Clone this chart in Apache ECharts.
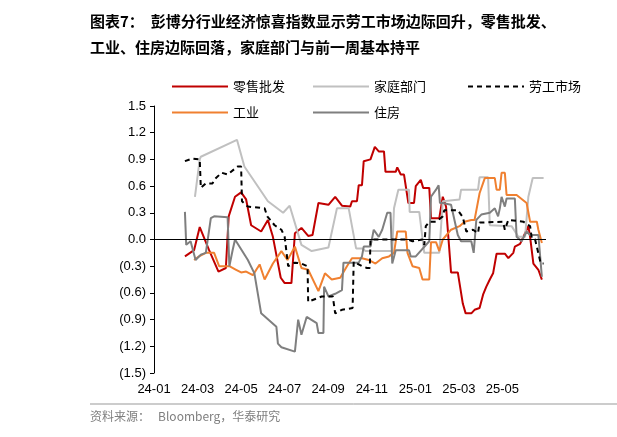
<!DOCTYPE html>
<html><head><meta charset="utf-8">
<script src="https://cdn.jsdelivr.net/npm/echarts@6/dist/echarts.min.js"></script>
<style>html,body{margin:0;padding:0;background:#fff}#c{width:617px;height:437px}</style>
</head><body><div id="c"></div>
<script>
// x = months since 2024-01
const tickLabels = ['24-01','24-03','24-05','24-07','24-09','24-11','25-01','25-03','25-05'];
const seriesNames = ['零售批发','家庭部门','劳工市场','工业','住房'];
const retail = [[1.42,-0.19],[1.84,-0.12],[2.10,0.14],[2.53,-0.12],[2.96,-0.36],[3.30,-0.32],[3.43,0.26],[3.72,0.48],[4.00,0.53],[4.23,0.45],[4.46,0.16],[4.92,0.09],[5.23,0.22],[5.46,0.03],[5.82,-0.43],[6.00,-0.49],[6.31,-0.49],[6.47,0.07],[6.77,0.13],[7.08,0.04],[7.28,0.05],[7.55,0.41],[8.01,0.39],[8.32,0.48],[8.63,0.38],[9.01,0.37],[9.09,0.43],[9.32,0.43],[9.40,0.61],[9.55,0.61],[9.63,0.88],[9.94,0.90],[10.14,1.04],[10.32,0.99],[10.56,0.99],[10.63,0.76],[11.10,0.76],[11.17,0.81],[11.33,0.73],[11.48,0.73],[11.68,0.41],[11.94,0.41],[12.02,0.60],[12.25,0.67],[12.36,0.58],[12.64,0.58],[12.72,0.24],[13.10,0.24],[13.26,0.48],[13.41,0.37],[13.64,-0.37],[13.95,-0.37],[14.18,-0.72],[14.31,-0.83],[14.57,-0.83],[14.72,-0.79],[14.95,-0.77],[15.11,-0.62],[15.26,-0.53],[15.42,-0.45],[15.57,-0.38],[15.73,-0.16],[16.11,-0.16],[16.27,-0.21],[16.50,-0.15],[16.57,-0.08],[16.81,-0.05],[17.19,0.15],[17.27,0.03],[17.42,-0.27],[17.65,-0.34],[17.81,-0.45]];
const household = [[1.88,0.48],[2.10,0.90],[2.15,0.93],[3.81,1.12],[4.15,0.82],[5.23,0.43],[5.93,0.30],[6.23,0.38],[6.77,-0.06],[7.24,-0.13],[8.01,-0.09],[8.40,0.35],[8.94,0.35],[9.28,-0.10],[9.55,-0.10],[9.71,-0.13],[10.94,-0.13],[11.02,0.35],[11.22,0.56],[11.71,0.56],[11.74,0.31],[12.18,0.31],[12.41,-0.15],[13.10,-0.15],[13.18,0.14],[13.26,0.43],[14.03,0.45],[14.10,0.56],[14.88,0.56],[14.95,0.70],[15.34,0.70],[15.42,0.16],[16.42,0.15],[16.73,0.03],[17.04,0.03],[17.19,0.48],[17.39,0.69],[17.89,0.69]];
const labor = [[1.42,0.88],[1.76,0.91],[2.10,0.90],[2.15,0.58],[2.38,0.63],[2.69,0.63],[2.76,0.67],[3.10,0.75],[3.38,0.73],[3.84,0.82],[4.00,0.82],[4.04,0.43],[4.31,0.37],[5.08,0.35],[5.20,0.26],[5.54,0.16],[5.85,0.11],[6.00,0.03],[6.16,-0.30],[6.47,-0.26],[6.77,-0.27],[7.05,-0.30],[7.08,-0.70],[7.70,-0.64],[8.21,-0.64],[8.32,-0.83],[8.63,-0.79],[9.12,-0.77],[9.17,-0.25],[9.55,-0.30],[9.78,-0.32],[9.91,-0.32],[9.94,0.00],[10.32,0.00],[11.64,0.00],[11.87,-0.02],[12.33,0.00],[12.41,-0.06],[12.48,0.15],[12.64,0.20],[12.95,0.20],[13.26,0.26],[13.33,0.33],[13.95,0.33],[14.18,0.25],[14.34,0.09],[14.65,0.11],[14.88,0.07],[14.95,0.19],[16.03,0.20],[16.11,0.11],[16.27,0.22],[16.96,0.20],[17.27,0.15],[17.35,0.01],[17.50,0.00],[17.76,-0.27],[17.89,-0.27]];
const industry = [[1.84,-0.23],[2.07,-0.19],[2.38,-0.15],[2.76,-0.15],[2.99,-0.30],[3.46,-0.30],[3.77,-0.34],[4.00,-0.37],[4.23,-0.36],[4.54,-0.40],[4.85,-0.28],[5.08,-0.45],[5.46,-0.27],[5.85,-0.13],[6.13,-0.23],[6.47,-0.08],[6.77,-0.32],[7.08,-0.34],[7.55,-0.58],[7.85,-0.38],[8.16,-0.45],[8.55,-0.43],[8.86,-0.30],[9.09,-0.21],[9.55,-0.21],[9.86,-0.23],[10.17,-0.27],[10.48,-0.21],[10.79,-0.19],[11.02,-0.15],[11.17,0.09],[11.56,0.09],[11.64,-0.15],[11.87,-0.30],[12.18,-0.32],[12.33,-0.45],[12.64,-0.45],[12.72,-0.03],[12.95,-0.03],[13.10,-0.13],[13.26,0.00],[13.64,0.11],[14.03,0.15],[14.26,0.20],[14.57,0.22],[14.72,0.22],[14.95,0.52],[15.19,0.69],[15.65,0.69],[15.73,0.56],[15.88,0.56],[15.96,0.75],[16.11,0.75],[16.19,0.50],[16.65,0.50],[17.11,0.41],[17.27,0.20],[17.58,0.20],[17.65,0.11],[17.81,-0.04]];
const housing = [[1.42,0.31],[1.48,-0.06],[1.68,-0.02],[1.91,-0.23],[2.15,-0.17],[2.38,-0.15],[2.61,0.24],[2.76,0.26],[3.38,0.25],[3.46,-0.30],[3.61,-0.12],[3.72,0.00],[4.31,-0.23],[4.61,-0.38],[4.92,-0.83],[5.62,-0.98],[5.69,-1.17],[5.85,-1.21],[6.47,-1.26],[6.62,-0.90],[6.77,-1.07],[7.01,-0.87],[7.47,-0.94],[7.55,-1.05],[7.78,-1.05],[7.81,-0.53],[8.01,-0.64],[8.32,-0.61],[8.63,-0.57],[8.70,-0.26],[9.40,-0.26],[9.55,-0.19],[9.63,-0.08],[9.94,-0.08],[10.09,0.11],[10.32,0.03],[10.48,0.11],[10.71,0.30],[10.86,0.30],[10.94,-0.27],[11.10,-0.12],[11.71,-0.12],[11.79,-0.19],[12.02,-0.19],[12.64,-0.02],[12.72,0.48],[12.95,0.56],[13.07,0.61],[13.13,0.41],[13.26,0.41],[13.64,0.39],[13.95,0.05],[14.10,-0.02],[14.57,-0.02],[14.68,-0.15],[14.80,0.22],[15.03,0.28],[15.42,0.30],[15.65,0.35],[15.80,0.26],[15.88,0.35],[15.96,0.48],[16.11,0.37],[16.19,0.46],[16.57,0.46],[16.65,0.03],[16.88,-0.02],[16.96,0.00],[17.11,0.09],[17.27,0.05],[17.65,0.05],[17.81,-0.42]];
const colors = ['#c00000','#c0c0c0','#000000','#f08030','#7f7f7f'];

const chart = echarts.init(document.getElementById('c'));
const datas = [retail, household, labor, industry, housing];
const series = datas.map((d,i)=>({
  name: seriesNames[i], type:'line', data:d, symbol:'none', z: i===2?5:3,
  lineStyle:{color:colors[i], width:2, type: i===2?[5,4]:'solid'},
  itemStyle:{color:colors[i]}
}));
series[0].markLine = {silent:true, symbol:'none', label:{show:false}, lineStyle:{color:'#000',width:1,type:'solid'}, data:[{yAxis:0}]};
const fam = '"Noto Sans CJK SC", sans-serif';
const legPos = [[166,75],[307,75],[462,75],[166,101],[307,101]];
const legend = seriesNames.map((n,i)=>({data:[n], left:legPos[i][0], top:legPos[i][1], itemWidth:56, itemHeight:12, itemGap:4,
  itemStyle:{opacity:0},
  textStyle:{fontFamily:fam,fontSize:13,color:'#000'}}));
chart.setOption({
  animation:false,
  graphic:[
    {type:'text', left:90, top:14, style:{text:'图表7：  彭博分行业经济惊喜指数显示劳工市场边际回升，零售批发、', font:'bold 15px '+fam, fill:'#000'}},
    {type:'text', left:90, top:40, style:{text:'工业、住房边际回落，家庭部门与前一周基本持平', font:'bold 15px '+fam, fill:'#000'}},
    {type:'line', shape:{x1:90,y1:404,x2:617,y2:404}, style:{stroke:'#999',lineWidth:1}},
    {type:'text', left:90, top:410, style:{text:'资料来源：   Bloomberg，华泰研究', font:'12px '+fam, fill:'#7f7f7f'}}
  ],
  legend,
  grid:{left:154, right:71, top:106, bottom:64},
  xAxis:{type:'value', min:0, max:18, interval:2,
    axisLine:{show:false, onZero:false}, axisTick:{show:false}, splitLine:{show:false},
    axisLabel:{fontSize:13, color:'#000', fontFamily:'"Liberation Sans", Arial', margin:10,
      formatter:v=>tickLabels[v/2]||''}},
  yAxis:{type:'value', min:-1.5, max:1.5, interval:0.3,
    axisLine:{show:true, lineStyle:{color:'#000'}}, axisTick:{show:true, inside:false, length:4, lineStyle:{color:'#000'}},
    splitLine:{show:false},
    axisLabel:{fontSize:13, color:'#000', fontFamily:'"Liberation Sans", Arial',
      formatter:v=>{const a=Math.abs(v).toFixed(1); return v< -1e-9?'('+a+')':a;}}},
  series
});
</script></body></html>
